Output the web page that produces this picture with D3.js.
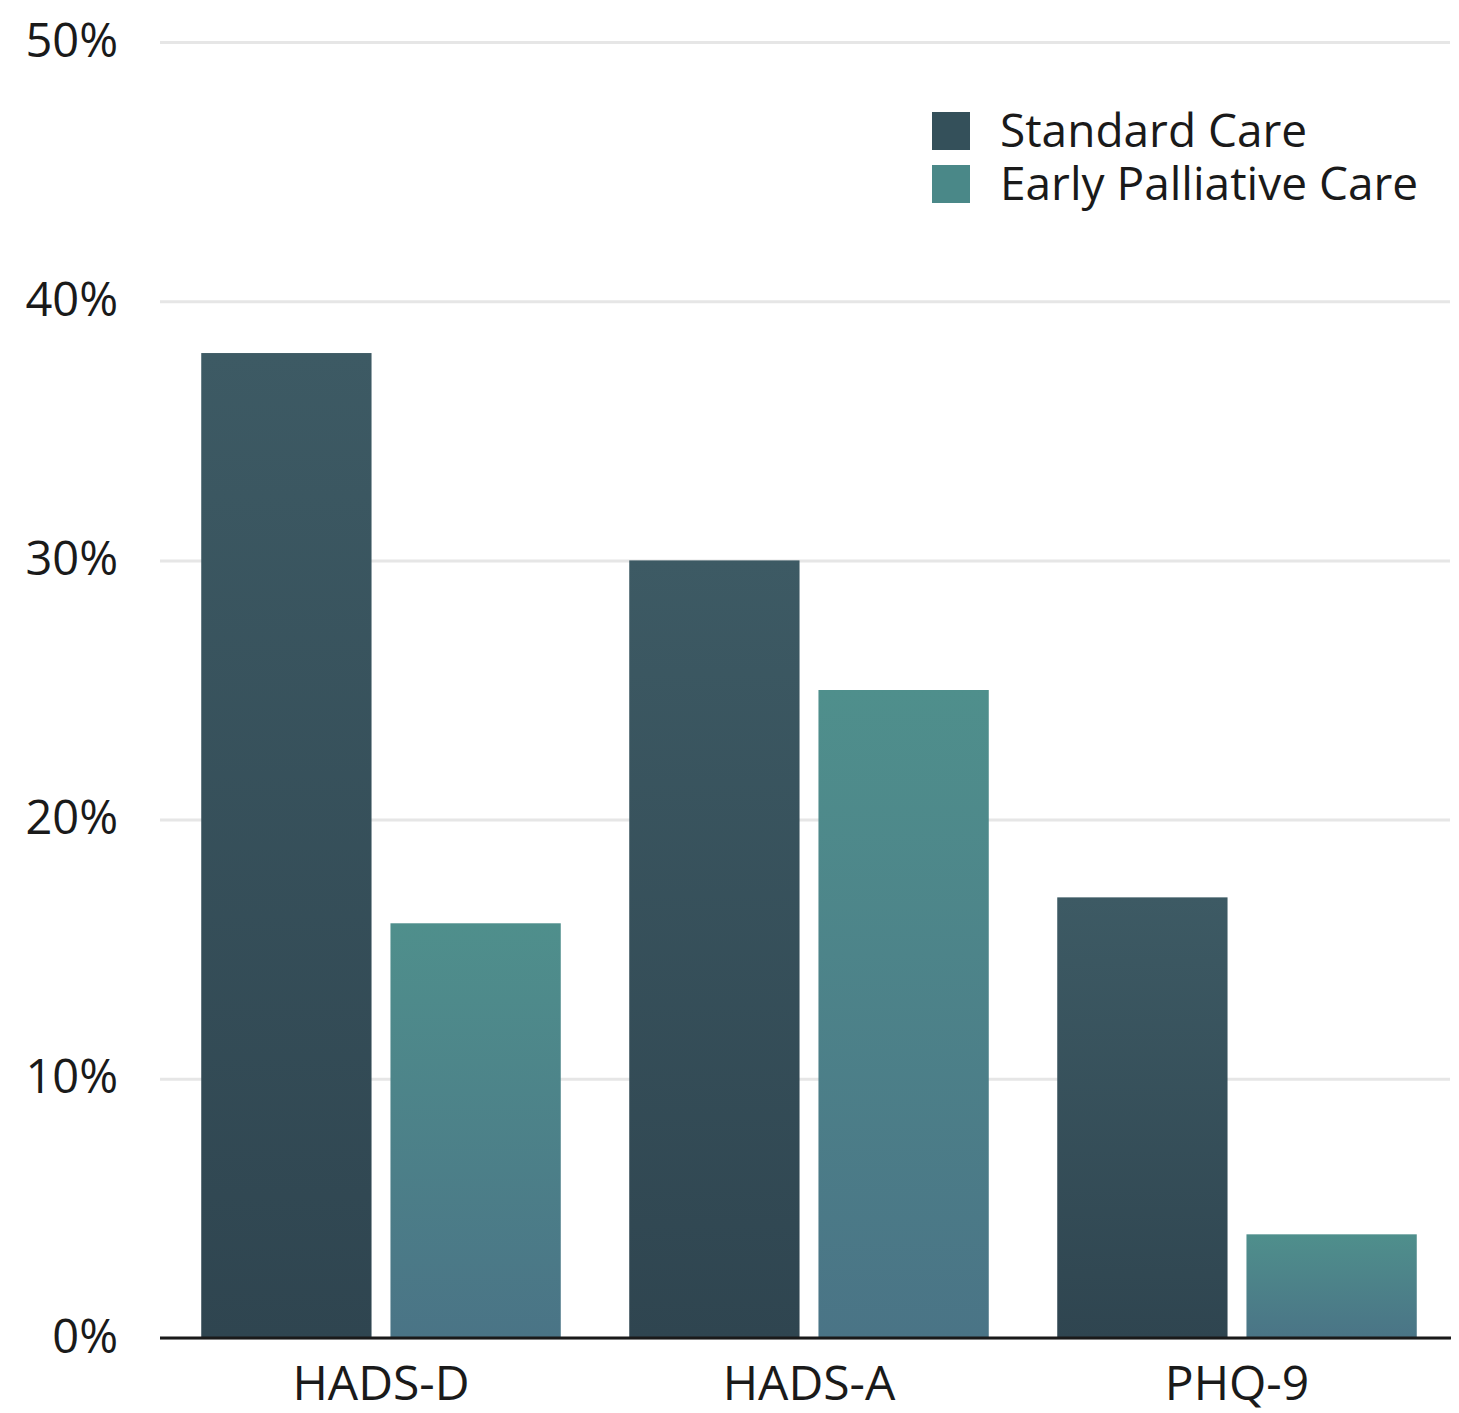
<!DOCTYPE html>
<html>
<head>
<meta charset="utf-8">
<script src="https://cdn.jsdelivr.net/npm/d3@7/dist/d3.min.js"></script>
<style>
  html, body { margin: 0; padding: 0; background: #ffffff; }
  svg { display: block; }
  text { font-family: "Open Sans", "Noto Sans", sans-serif; fill: #1a1a1a; }
</style>
</head>
<body>
<svg id="chart" width="1459" height="1413"></svg>
<script>
// Share of patients with depression / anxiety symptoms, by measure and care arm
const categories = ["HADS-D", "HADS-A", "PHQ-9"];
const seriesNames = ["Standard Care", "Early Palliative Care"];
const standardCare = [38, 30, 17];
const earlyPalliativeCare = [16, 25, 4];
const yTicks = [0, 10, 20, 30, 40, 50];

const seriesValues = [standardCare, earlyPalliativeCare];
const rows = categories.map((c, i) => ({
  category: c,
  values: seriesNames.map((s, j) => ({ series: s, value: seriesValues[j][i] }))
}));

const svg = d3.select("#chart");
const plotLeft = 160, plotRight = 1451, plotTop = 42, plotBottom = 1338;

const y = d3.scaleLinear().domain([0, 50]).range([plotBottom, plotTop]);
const x0 = d3.scaleBand().domain(categories).range([167, plotRight])
  .paddingInner(0.16).paddingOuter(0.08);
const x1 = d3.scaleBand().domain(seriesNames).range([0, x0.bandwidth()])
  .paddingInner(0.1);

// Vertical gradients for each series
const defs = svg.append("defs");
const gradStops = {
  "Standard Care": ["#3d5a64", "#2f4550"],
  "Early Palliative Care": ["#4f8f8c", "#4a7486"]
};
const legendFill = { "Standard Care": "#34505a", "Early Palliative Care": "#4a8888" };
const gradId = s => "grad-" + seriesNames.indexOf(s);
seriesNames.forEach(s => {
  const g = defs.append("linearGradient").attr("id", gradId(s))
    .attr("x1", 0).attr("y1", 0).attr("x2", 0).attr("y2", 1);
  g.append("stop").attr("offset", "0%").attr("stop-color", gradStops[s][0]);
  g.append("stop").attr("offset", "100%").attr("stop-color", gradStops[s][1]);
});

// Gridlines and y tick labels
const yAxis = d3.axisLeft(y).tickValues(yTicks)
  .tickSize(-(1450 - plotLeft)).tickFormat(d => d + "%").tickPadding(42);
const gy = svg.append("g").attr("transform", `translate(${plotLeft},0)`).call(yAxis);
gy.select(".domain").remove();
gy.selectAll(".tick line").attr("stroke", "#e6e6e6").attr("stroke-width", 3);
gy.selectAll(".tick text").attr("font-size", 47).attr("fill", "#1a1a1a")
  .attr("font-family", "'Open Sans', sans-serif").attr("dy", "0.3em");

// Bars
const groups = svg.append("g").selectAll("g").data(rows).join("g")
  .attr("transform", d => `translate(${x0(d.category)},0)`);
groups.selectAll("rect").data(d => d.values).join("rect")
  .attr("x", d => x1(d.series))
  .attr("width", x1.bandwidth())
  .attr("y", d => y(d.value))
  .attr("height", d => y(0) - y(d.value))
  .attr("fill", d => `url(#${gradId(d.series)})`);

// Baseline and category labels
const xAxis = d3.axisBottom(x0).tickSize(0).tickPadding(28);
const gx = svg.append("g").attr("transform", `translate(0,${plotBottom})`).call(xAxis);
gx.select(".domain").attr("d", `M${plotLeft},0H${plotRight}`).attr("stroke", "#1a1a1a").attr("stroke-width", 3);
gx.selectAll(".tick text").attr("font-size", 48).attr("fill", "#1a1a1a")
  .attr("font-family", "'Open Sans', sans-serif");

// Legend
const legend = svg.append("g").attr("transform", "translate(932,112)");
const li = legend.selectAll("g").data(seriesNames).join("g")
  .attr("transform", (d, i) => `translate(0,${i * 53})`);
li.append("rect").attr("width", 38).attr("height", 38)
  .attr("fill", d => legendFill[d]);
li.append("text").attr("x", 68).attr("y", 19).attr("dy", "0.35em")
  .attr("font-size", 46).text(d => d);
</script>
</body>
</html>
